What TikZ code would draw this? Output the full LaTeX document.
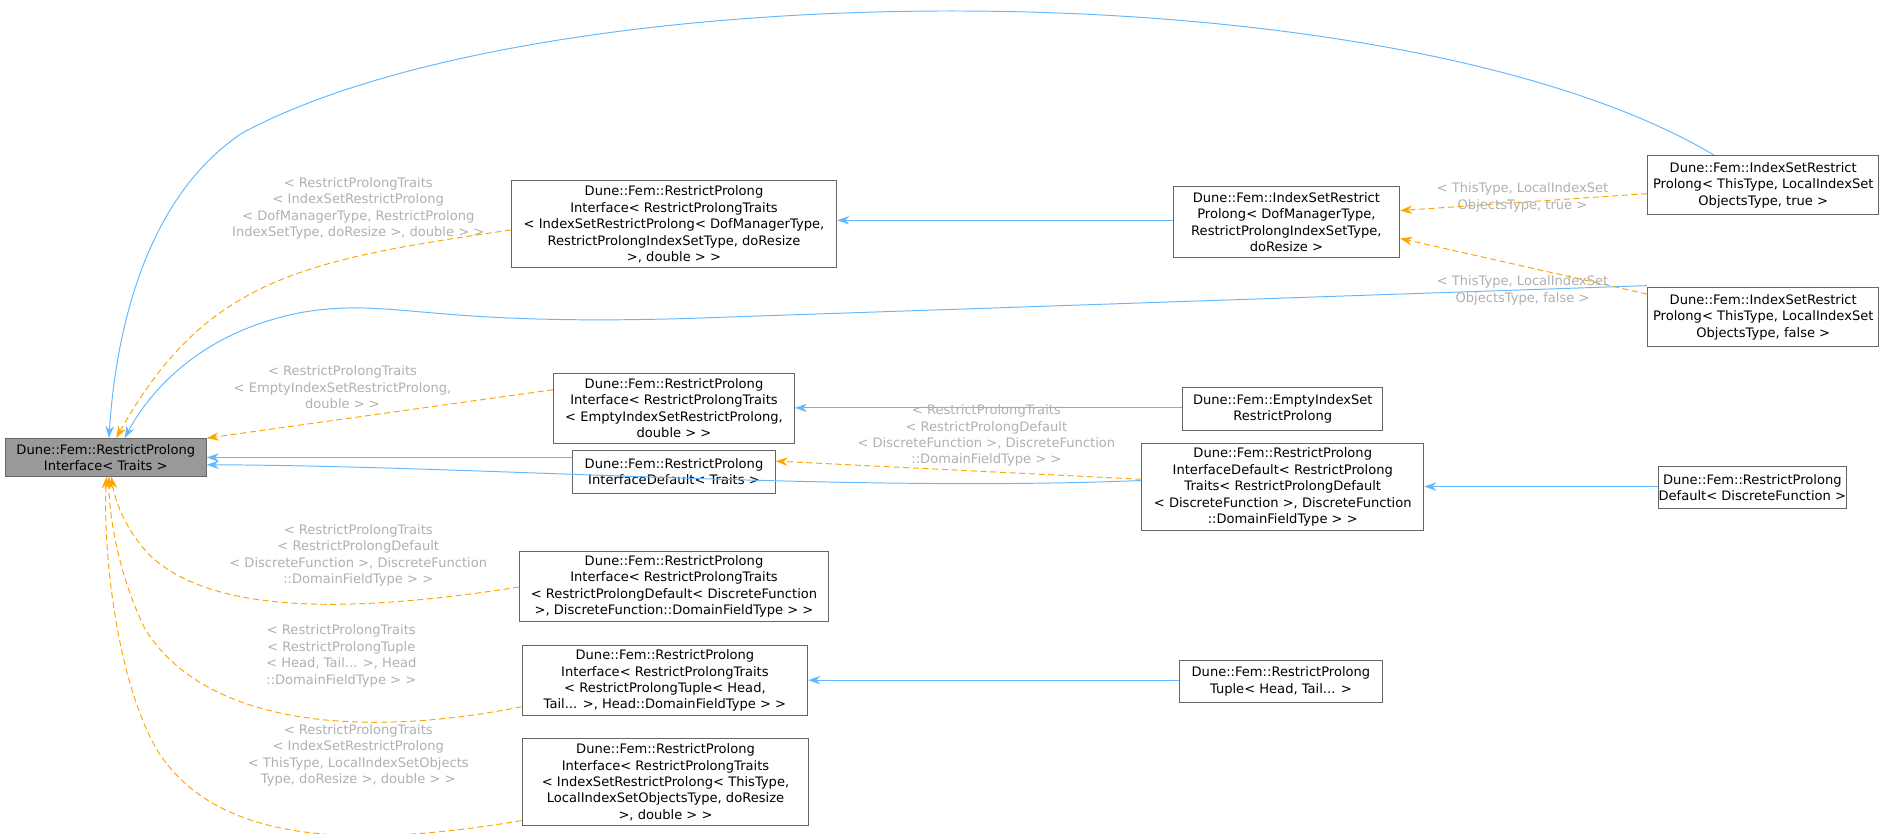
\documentclass[tikz,border=0pt]{standalone}
\usepackage{fontspec}
\setmainfont{DejaVu Sans}
\usetikzlibrary{arrows.meta}
\definecolor{eblue}{HTML}{63B8FF}
\definecolor{eorange}{HTML}{FFA500}
\definecolor{lbl}{HTML}{B0B0B0}
\definecolor{bord}{HTML}{666666}
\begin{document}
\begin{tikzpicture}[x=1pt,y=1pt,
  box/.style={draw=bord, line width=0.8pt, fill=white, anchor=north west, inner sep=0pt, align=center, font=\fontsize{10.8}{13.6}\selectfont},
  lab/.style={text=lbl, align=center, inner sep=0pt, font=\fontsize{10.8}{13.6}\selectfont},
  inh/.style={draw=eblue, line width=0.8pt, -{Stealth[length=10pt,width=7pt]}},
  tpl/.style={draw=eorange, line width=0.8pt, dash pattern=on 5pt off 3pt, -{Stealth[length=10pt,width=7pt]}}]
\useasboundingbox (0,0) rectangle (1560,-689);
\node[box, fill=gray!80, minimum width=166, minimum height=31] (base) at (4,-362) {Dune::Fem::RestrictProlong\\Interface< Traits >};
\node[box, minimum width=269, minimum height=72] (A1) at (422,-149) {Dune::Fem::RestrictProlong\\Interface< RestrictProlongTraits\\< IndexSetRestrictProlong< DofManagerType,\\ RestrictProlongIndexSetType, doResize\\ >, double > >};
\node[box, minimum width=187, minimum height=58] (A2) at (969,-154) {Dune::Fem::IndexSetRestrict\\Prolong< DofManagerType,\\ RestrictProlongIndexSetType,\\ doResize >};
\node[box, minimum width=191, minimum height=49] (T) at (1361,-128) {Dune::Fem::IndexSetRestrict\\Prolong< ThisType, LocalIndexSet\\ObjectsType, true >};
\node[box, minimum width=191, minimum height=49] (F) at (1361,-237) {Dune::Fem::IndexSetRestrict\\Prolong< ThisType, LocalIndexSet\\ObjectsType, false >};
\node[box, minimum width=199, minimum height=58] (B1) at (457,-308) {Dune::Fem::RestrictProlong\\Interface< RestrictProlongTraits\\< EmptyIndexSetRestrictProlong,\\ double > >};
\node[box, minimum width=165, minimum height=35] (B2) at (977,-320) {Dune::Fem::EmptyIndexSet\\RestrictProlong};
\node[box, minimum width=167, minimum height=35] (C1) at (473,-372) {Dune::Fem::RestrictProlong\\InterfaceDefault< Traits >};
\node[box, minimum width=233, minimum height=72] (C2) at (943,-366) {Dune::Fem::RestrictProlong\\InterfaceDefault< RestrictProlong\\Traits< RestrictProlongDefault\\< DiscreteFunction >, DiscreteFunction\\ ::DomainFieldType > >};
\node[box, minimum width=151, minimum height=35] (C3) at (1370,-385) {Dune::Fem::RestrictProlong\\Default< DiscreteFunction >};
\node[box, minimum width=255, minimum height=58] (D1) at (429,-455) {Dune::Fem::RestrictProlong\\Interface< RestrictProlongTraits\\< RestrictProlongDefault< DiscreteFunction\\ >, DiscreteFunction::DomainFieldType > >};
\node[box, minimum width=236, minimum height=58] (E1) at (431,-533) {Dune::Fem::RestrictProlong\\Interface< RestrictProlongTraits\\< RestrictProlongTuple< Head,\\ Tail... >, Head::DomainFieldType > >};
\node[box, minimum width=168, minimum height=35] (E2) at (974,-545) {Dune::Fem::RestrictProlong\\Tuple< Head, Tail... >};
\node[box, minimum width=237, minimum height=72] (G1) at (431,-610) {Dune::Fem::RestrictProlong\\Interface< RestrictProlongTraits\\< IndexSetRestrictProlong< ThisType,\\ LocalIndexSetObjectsType, doResize\\ >, double > >};
% edges
\draw[inh] ([xshift=55]T.north west) .. controls (1150,30) and (450,25) .. (200,-110) .. controls (110,-170) and (94,-300) .. ([xshift=86]base.north west);
\draw[tpl] (A1.west |- 0,-190) .. controls (250,-215) and (170,-230) .. ([xshift=92]base.north west);
\draw[inh] (F.west |- 0,-236) -- (600,-262) .. controls (350,-272) and (330,-245) .. (250,-258) .. controls (160,-275) and (120,-330) .. ([xshift=99]base.north west);
\draw[tpl] (B1.west |- 0,-322) -- (base.north east);
\draw[inh] (C1.west |- 0,-378) -- (base.east |- 0,-378);
\draw[inh] (C2.west |- 0,-397) .. controls (700,-407) and (400,-385) .. (base.east |- 0,-384);
\draw[tpl] (C2.west |- 0,-396) -- ([yshift=-9]C1.north east);
\draw[inh] (A2.west |- 0,-182) -- (A1.east |- 0,-182);
\draw[tpl] (T.west |- 0,-160) -- (A2.east |- 0,-174);
\draw[tpl] (F.west |- 0,-243) -- (A2.east |- 0,-197);
\draw[inh] (B2.west |- 0,-337) -- (B1.east |- 0,-337);
\draw[inh] (C3.west |- 0,-402) -- (C2.east |- 0,-402);
\draw[inh] (E2.west |- 0,-562) -- (E1.east |- 0,-562);
\draw[tpl] (D1.west |- 0,-485) .. controls (300,-505) and (180,-510) .. (125,-460) .. controls (105,-440) and (95,-415) .. ([xshift=88]base.south west);
\draw[tpl] (E1.west |- 0,-584) .. controls (300,-610) and (170,-600) .. (120,-520) .. controls (100,-480) and (90,-430) .. ([xshift=86]base.south west);
\draw[tpl] (G1.west |- 0,-678) .. controls (300,-700) and (180,-700) .. (130,-620) .. controls (95,-560) and (85,-450) .. ([xshift=84]base.south west);
% labels
\node[lab] (l1) at (296,-172) {< RestrictProlongTraits\\< IndexSetRestrictProlong\\< DofManagerType, RestrictProlong\\IndexSetType, doResize >, double > >};
\node[lab] (l2) at (283,-320) {< RestrictProlongTraits\\< EmptyIndexSetRestrictProlong,\\double > >};
\node[lab] (l3) at (815,-360) {< RestrictProlongTraits\\< RestrictProlongDefault\\< DiscreteFunction >, DiscreteFunction\\::DomainFieldType > >};
\node[lab] (l4) at (296,-459) {< RestrictProlongTraits\\< RestrictProlongDefault\\< DiscreteFunction >, DiscreteFunction\\::DomainFieldType > >};
\node[lab] (l5) at (282,-542) {< RestrictProlongTraits\\< RestrictProlongTuple\\< Head, Tail... >, Head\\::DomainFieldType > >};
\node[lab] (l6) at (296,-624) {< RestrictProlongTraits\\< IndexSetRestrictProlong\\< ThisType, LocalIndexSetObjects\\Type, doResize >, double > >};
\node[lab] (l7) at (1258,-163) {< ThisType, LocalIndexSet\\ObjectsType, true >};
\node[lab] (l8) at (1258,-240) {< ThisType, LocalIndexSet\\ObjectsType, false >};
\end{tikzpicture}
\end{document}
